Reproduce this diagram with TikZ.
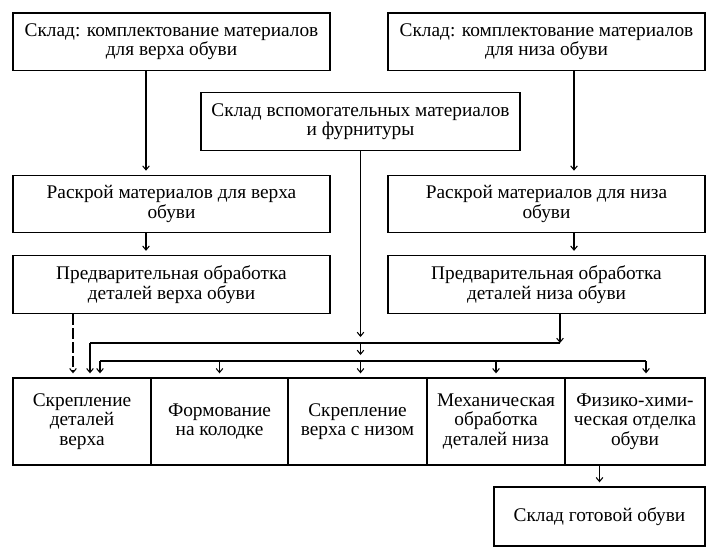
\documentclass[tikz,border=0pt]{standalone}
\usepackage{fontspec}
\setmainfont{Liberation Serif}
\usetikzlibrary{arrows.meta}
\begin{document}
\begin{tikzpicture}[x=0.75pt,y=0.75pt,yscale=-1,xscale=1,
    box/.style={draw,line width=1pt,align=center,inner sep=0pt,font=\fontsize{14.5}{14.5}\selectfont},
    wide/.style={box,minimum width=237.75pt,minimum height=43pt},
    cell/.style={box,minimum height=65.25pt},
    arr/.style={-{Straight Barb[length=3pt,width=5pt]},line width=0.8pt,shorten >=3pt},
    lin/.style={line width=0.8pt}]
    \useasboundingbox (0,0) rectangle (713,558);
    % upper boxes
    \node [wide] (skladV) at (171.5,41.5) {Склад: комплектование материалов\\для верха обуви};
    \node [wide] (skladN) at (546.5,41.5) {Склад: комплектование материалов\\для низа обуви};
    \node [wide,minimum width=239.25pt,minimum height=43.5pt] (skladAux) at (360.5,121.5) {Склад вспомогательных материалов\\и фурнитуры};
    \node [wide] (raskrV) at (171.5,204) {Раскрой материалов для верха\\обуви};
    \node [wide] (raskrN) at (546.5,204) {Раскрой материалов для низа\\обуви};
    \node [wide,minimum height=43.5pt] (predV) at (171.5,284.5) {Предварительная обработка\\деталей верха обуви};
    \node [wide,minimum height=43.5pt] (predN) at (546.5,284.5) {Предварительная обработка\\деталей низа обуви};
    % lower row
    \node [cell,minimum width=103.5pt] (c1) at (82,421.5) {Скрепление\\деталей\\верха};
    \node [cell,minimum width=102.75pt] (c2) at (219.5,421.5) {Формование\\на колодке};
    \node [cell,minimum width=104.25pt] (c3) at (357.5,421.5) {Скрепление\\верха с низом};
    \node [cell,minimum width=103.5pt] (c4) at (496,421.5) {Механическая\\обработка\\деталей низа};
    \node [cell,minimum width=105pt] (c5) at (635,421.5) {Физико-хими-\\ческая отделка\\обуви};
    \node [box,minimum width=158.25pt,minimum height=44.25pt] (gotov) at (599.5,516.5) {Склад готовой обуви};
    % connectors
    \coordinate (xV) at (146,0);
    \coordinate (xN) at (574,0);
    \coordinate (xD) at (73,0);
    \coordinate (l1L) at (90,343);
    \coordinate (l1R) at (560,343);
    \coordinate (l2L) at (100,361);
    \coordinate (l2R) at (646,361);
    \draw [arr] (skladV.south -| xV) -- (raskrV.north -| xV);
    \draw [arr] (skladN.south -| xN) -- (raskrN.north -| xN);
    \draw [arr] (raskrV.south -| xV) -- (predV.north -| xV);
    \draw [arr] (raskrN.south -| xN) -- (predN.north -| xN);
    \draw [arr,dash pattern=on 8pt off 2.5pt] (predV.south -| xD) -- (c1.north -| xD);
    \draw [arr,shorten >=4.5pt] (skladAux.south) -- (skladAux.south |- l1L);
    \draw [arr,shorten >=0pt] (predN.south -| l1R) -- (l1R);
    \draw [lin] (l1R) -- (l1L);
    \draw [arr] (l1L) -- (l1L |- c1.north);
    \draw [arr,shorten >=4.5pt] (skladAux.south |- l1L) -- (skladAux.south |- l2L);
    \draw [lin] (l2L) -- (l2R);
    \draw [arr] (l2L) -- (l2L |- c1.north);
    \draw [arr] (c2.north |- l2L) -- (c2.north);
    \draw [arr] (skladAux.south |- l2L) -- (skladAux.south |- c3.north);
    \draw [arr] (c4.north |- l2L) -- (c4.north);
    \draw [arr] (l2R) -- (l2R |- c5.north);
    \draw [arr] (c5.south -| gotov.north) -- (gotov.north);
\end{tikzpicture}
\end{document}
